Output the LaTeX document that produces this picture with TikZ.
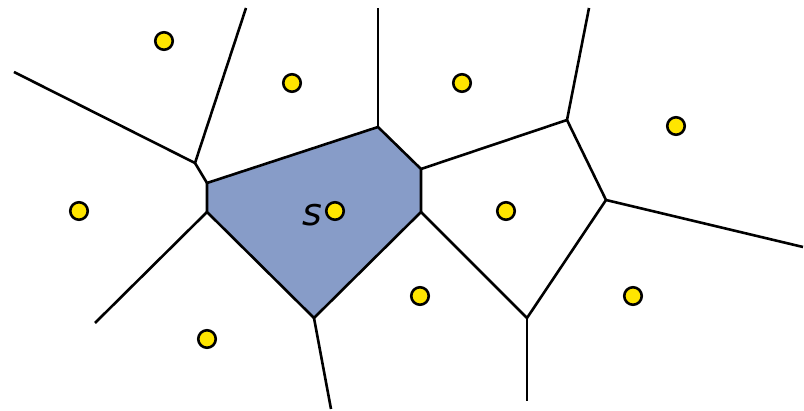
\documentclass[tikz,border=0pt]{standalone}
\usepackage{fontspec}
\setmainfont{DejaVu Sans}
\definecolor{cellblue}{HTML}{879CC8}
\definecolor{siteyellow}{HTML}{FFE500}
\begin{document}
\begin{tikzpicture}[x=1pt,y=-1pt,
  edge/.style={line width=2.6pt,line join=miter},
  site/.style={circle,draw=black,line width=2.6pt,fill=siteyellow,minimum size=17.5pt,inner sep=0pt}]
\useasboundingbox (0,0) rectangle (804,411);
% vertices
\coordinate (J) at (195,163);
\coordinate (P1) at (207,183);
\coordinate (P2) at (378,127);
\coordinate (P3) at (421,169);
\coordinate (P4) at (421,212);
\coordinate (P5) at (314,318);
\coordinate (P6) at (207,212);
\coordinate (Q1) at (567,120);
\coordinate (Q2) at (606,200);
\coordinate (Q3) at (527,318);
% outer ends
\coordinate (E1) at (14,72);
\coordinate (E2) at (246,8);
\coordinate (E3) at (378,8);
\coordinate (E4) at (589,8);
\coordinate (E5) at (803,247);
\coordinate (E6) at (527,401);
\coordinate (E7) at (331,409);
\coordinate (E8) at (95,323);
% blue cell
\filldraw[edge,fill=cellblue] (P1) -- (P2) -- (P3) -- (P4) -- (P5) -- (P6) -- cycle;
% other edges
\draw[edge] (E1) -- (J) -- (E2);
\draw[edge] (J) -- (P1);
\draw[edge] (P2) -- (E3);
\draw[edge] (P3) -- (Q1) -- (E4);
\draw[edge] (Q1) -- (Q2) -- (E5);
\draw[edge] (Q2) -- (Q3) -- (P4);
\draw[edge] (Q3) -- (E6);
\draw[edge] (P5) -- (E7);
\draw[edge] (P6) -- (E8);
% sites
\node[site] (s1) at (164,41) {};
\node[site] (s2) at (292,83) {};
\node[site] (s3) at (462,83) {};
\node[site] (s4) at (676,126) {};
\node[site] (s5) at (79,211) {};
\node[site] (s6) at (335,211) {};
\node[site] (s7) at (506,211) {};
\node[site] (s8) at (420,296) {};
\node[site] (s9) at (633,296) {};
\node[site] (s10) at (207,339) {};
\node[font=\fontsize{38}{42}\selectfont\itshape,inner sep=0pt] (lbl) at (312,215) {s};
\end{tikzpicture}
\end{document}
